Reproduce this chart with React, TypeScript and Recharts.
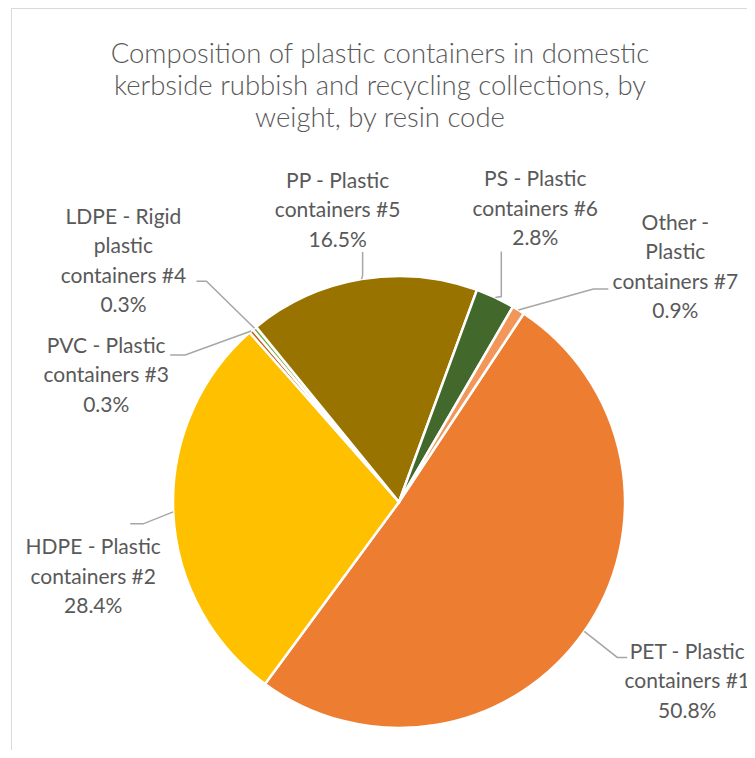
import React from 'react';
import { PieChart, Pie, Cell } from 'recharts';

// resin codes, clockwise from the PET slice
const names = [
  'PET - Plastic containers #1',
  'HDPE - Plastic containers #2',
  'PVC - Plastic containers #3',
  'LDPE - Rigid plastic containers #4',
  'PP - Plastic containers #5',
  'PS - Plastic containers #6',
  'Other - Plastic containers #7',
];
const shares = [50.8, 28.4, 0.3, 0.3, 16.5, 2.8, 0.9];
// how each data label wraps in the picture
const labelLines = [
  ['PET - Plastic', 'containers #1'],
  ['HDPE - Plastic', 'containers #2'],
  ['PVC - Plastic', 'containers #3'],
  ['LDPE - Rigid', 'plastic', 'containers #4'],
  ['PP - Plastic', 'containers #5'],
  ['PS - Plastic', 'containers #6'],
  ['Other -', 'Plastic', 'containers #7'],
];
const colors = ['#ED7D31', '#FFC000', '#C55A11', '#70AD47', '#997300', '#43682B', '#F1975A'];

const data = names.map((name, i) => ({ name, value: shares[i] }));

// leader line bend / end and first text line, offsets from the point on the rim
const layout: Record<string, { bend: number[]; end: number[]; text: number[] }> = {
  'PET - Plastic containers #1': { bend: [33, 26], end: [43, 26], text: [103, 20] },
  'HDPE - Plastic containers #2': { bend: [-30, 12], end: [-43, 12], text: [-80, 35] },
  'PVC - Plastic containers #3': { bend: [-66, 24], end: [-81, 24], text: [-145, 14] },
  'LDPE - Rigid plastic containers #4': { bend: [-48, -47], end: [-58, -47], text: [-131, -112] },
  'PP - Plastic containers #5': { bend: [1, -4], end: [1, -27], text: [-24, -99] },
  'PS - Plastic containers #6': { bend: [6, -1], end: [6, -46], text: [40, -119] },
  'Other - Plastic containers #7': { bend: [75, -21], end: [90, -21], text: [157, -88] },
};

const RADIAN = Math.PI / 180;
const FONT = 'Lato, "Open Sans", sans-serif';

const renderLabel = (props: any) => {
  const { cx, cy, midAngle, outerRadius, index, name, value } = props;
  const px = cx + outerRadius * Math.cos(-midAngle * RADIAN);
  const py = cy + outerRadius * Math.sin(-midAngle * RADIAN);
  const l = layout[name];
  const lines = [...labelLines[index], `${Number(value).toFixed(1)}%`];
  return (
    <g>
      <polyline
        points={`${px},${py} ${px + l.bend[0]},${py + l.bend[1]} ${px + l.end[0]},${py + l.end[1]}`}
        fill="none"
        stroke="#A6A6A6"
        strokeWidth={1.5}
      />
      <text
        x={px + l.text[0]}
        y={py + l.text[1]}
        textAnchor="middle"
        fill="#595959"
        fontSize={21}
        fontFamily={FONT}
      >
        {lines.map((t, i) => (
          <tspan key={i} x={px + l.text[0]} dy={i === 0 ? 7.5 : 29.5}>
            {t}
          </tspan>
        ))}
      </text>
    </g>
  );
};

export default function App() {
  return (
    <div style={{ position: 'relative', margin: -8, width: 755, height: 758, overflow: 'hidden', background: '#fff' }}>
      <div
        style={{
          position: 'absolute',
          left: 11,
          top: 8,
          width: 800,
          height: 800,
          border: '1.5px solid #D9D9D9',
        }}
      />
      <div
        style={{
          position: 'absolute',
          left: 0,
          top: 37,
          width: 760,
          textAlign: 'center',
          fontFamily: FONT,
          fontWeight: 300,
          fontSize: 27.5,
          lineHeight: '32px',
          color: '#595959',
        }}
      >
        Composition of plastic containers in domestic
        <br />
        kerbside rubbish and recycling collections, by
        <br />
        weight, by resin code
      </div>
      <PieChart width={755} height={758} style={{ position: 'absolute', left: 0, top: 0 }}>
        <Pie
          data={data}
          dataKey="value"
          nameKey="name"
          cx={394}
          cy={497}
          outerRadius={226}
          startAngle={56.5}
          endAngle={-303.5}
          stroke="#fff"
          strokeWidth={2.5}
          label={renderLabel}
          labelLine={false}
          isAnimationActive={false}
        >
          {data.map((d, i) => (
            <Cell key={d.name} fill={colors[i]} />
          ))}
        </Pie>
      </PieChart>
    </div>
  );
}
